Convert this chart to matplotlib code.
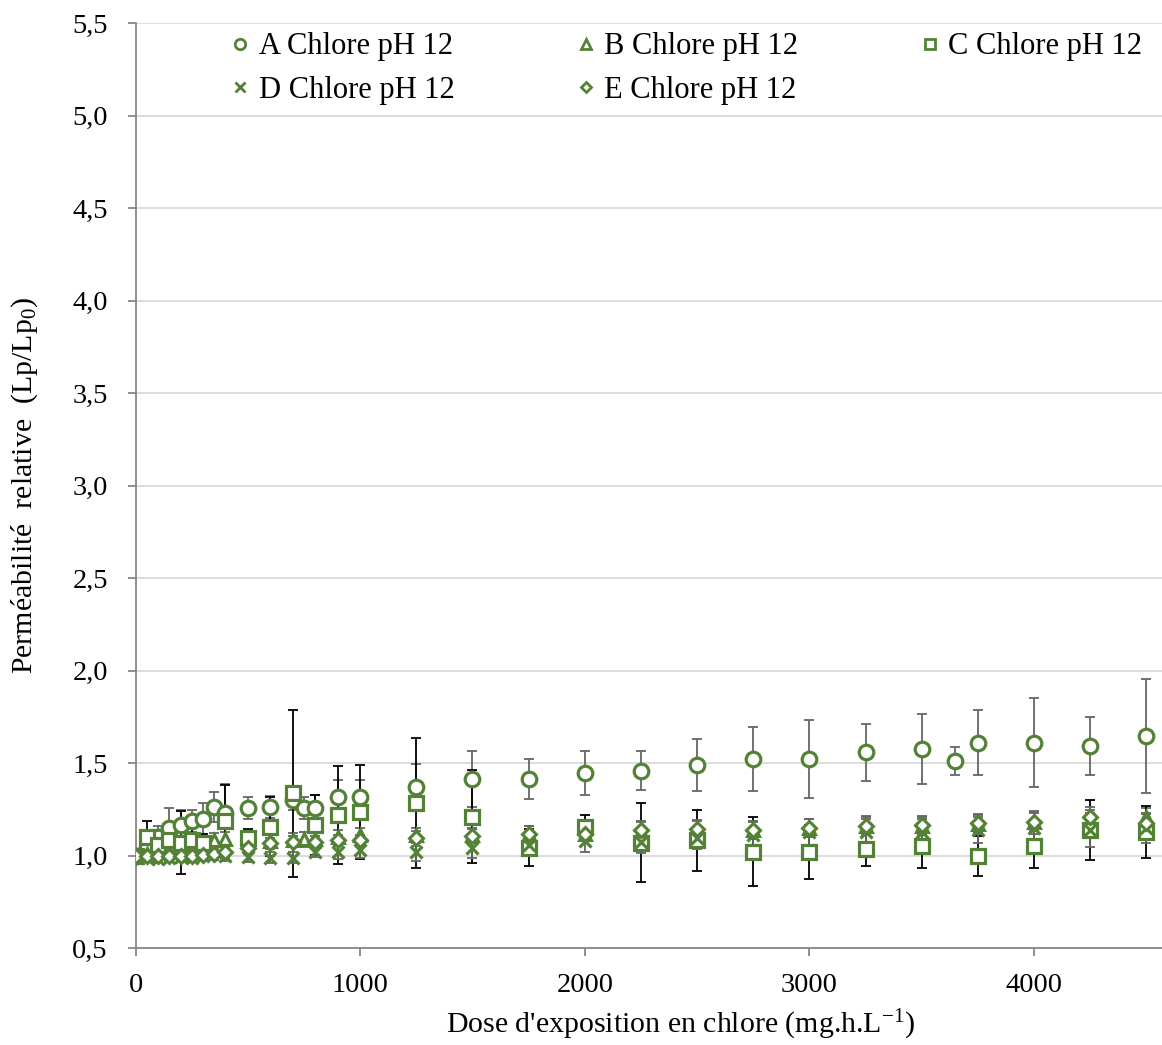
import matplotlib
matplotlib.use('Agg')
import matplotlib.pyplot as plt
from matplotlib.lines import Line2D
from matplotlib.ticker import FuncFormatter, MultipleLocator

plt.rcParams['font.family'] = ['Liberation Serif', 'DejaVu Serif']
plt.rcParams['mathtext.fontset'] = 'custom'
plt.rcParams['mathtext.rm'] = 'Liberation Serif'
plt.rcParams['mathtext.it'] = 'Liberation Serif:italic'

# doses (mg.h/L)
dose_a = [0, 50, 100, 150, 200, 250, 300, 350, 400, 500, 600, 700, 750, 800, 900, 1000,
          1250, 1500, 1750, 2000, 2250, 2500, 2750, 3000, 3250, 3500, 3650, 3750, 4000, 4250, 4500]
lp_a = [1.0, 1.04, 1.10, 1.15, 1.165, 1.19, 1.197, 1.265, 1.23, 1.257, 1.262, 1.30, 1.257, 1.257, 1.32, 1.32,
        1.373, 1.415, 1.415, 1.446, 1.46, 1.49, 1.523, 1.523, 1.559, 1.577, 1.512, 1.611, 1.611, 1.594, 1.648]
err_a = [0.0, 0.05, 0.06, 0.11, 0.08, 0.06, 0.09, 0.08, 0.16, 0.06, 0.06, 0.05, 0.06, 0.07, 0.09, 0.09,
         0.125, 0.15, 0.11, 0.12, 0.105, 0.14, 0.175, 0.21, 0.155, 0.19, 0.075, 0.175, 0.24, 0.157, 0.31]

dose_b = [0, 50, 100, 150, 200, 250, 300, 350, 400, 500, 600, 700, 750, 800, 900, 1000,
          1250, 1500, 1750, 2000, 2250, 2500, 2750, 3000, 3250, 3500, 3750, 4000, 4250, 4500]
lp_b = [1.0, 1.01, 1.02, 1.02, 1.03, 1.04, 1.05, 1.085, 1.09, 1.09, 1.08, 1.085, 1.09, 1.09, 1.10, 1.11,
        1.11, 1.11, 1.12, 1.12, 1.13, 1.14, 1.14, 1.15, 1.16, 1.16, 1.17, 1.18, 1.19, 1.21]
err_b = [0.0, 0.02, 0.02, 0.03, 0.03, 0.03, 0.03, 0.04, 0.04, 0.04, 0.04, 0.04, 0.04, 0.04, 0.04, 0.04,
         0.04, 0.04, 0.04, 0.04, 0.05, 0.05, 0.05, 0.05, 0.05, 0.05, 0.05, 0.06, 0.06, 0.05]

dose_c = [0, 50, 100, 150, 200, 250, 300, 400, 500, 600, 700, 800, 900, 1000,
          1250, 1500, 1750, 2000, 2250, 2500, 2750, 3000, 3250, 3500, 3750, 4000, 4250, 4500]
lp_c = [1.0, 1.10, 1.06, 1.085, 1.07, 1.085, 1.068, 1.19, 1.095, 1.157, 1.338, 1.167, 1.22, 1.238,
        1.284, 1.211, 1.044, 1.157, 1.07, 1.085, 1.022, 1.019, 1.035, 1.053, 0.999, 1.053, 1.14, 1.13]
err_c = [0.0, 0.09, 0.06, 0.08, 0.17, 0.07, 0.05, 0.195, 0.05, 0.16, 0.45, 0.16, 0.265, 0.255,
         0.35, 0.25, 0.10, 0.065, 0.214, 0.165, 0.187, 0.145, 0.09, 0.117, 0.108, 0.117, 0.16, 0.14]

dose_d = [0, 50, 100, 150, 200, 250, 300, 400, 500, 600, 700, 800, 900, 1000,
          1250, 1500, 1750, 2000, 2250, 2500, 2750, 3000, 3250, 3500, 3750, 4000, 4250, 4500]
lp_d = [1.0, 0.99, 0.985, 0.99, 0.995, 0.99, 1.0, 1.0, 0.995, 0.99, 0.99, 1.022, 1.022, 1.03,
        1.022, 1.04, 1.058, 1.08, 1.076, 1.095, 1.11, 1.13, 1.13, 1.13, 1.14, 1.149, 1.14, 1.149]
err_d = [0.0, 0.02, 0.02, 0.02, 0.02, 0.02, 0.02, 0.03, 0.03, 0.03, 0.03, 0.03, 0.04, 0.04,
         0.05, 0.05, 0.06, 0.06, 0.06, 0.06, 0.07, 0.07, 0.07, 0.07, 0.07, 0.08, 0.09, 0.08]

dose_e = [0, 50, 100, 150, 200, 250, 300, 350, 400, 500, 600, 700, 800, 900, 1000,
          1250, 1500, 1750, 2000, 2250, 2500, 2750, 3000, 3250, 3500, 3750, 4000, 4250, 4500]
lp_e = [1.0, 1.0, 1.0, 1.0, 1.0, 1.0, 1.005, 1.01, 1.02, 1.04, 1.068, 1.076, 1.076, 1.085, 1.085,
        1.095, 1.107, 1.12, 1.12, 1.14, 1.143, 1.14, 1.149, 1.163, 1.165, 1.176, 1.184, 1.211, 1.176]
err_e = [0.0, 0.02, 0.02, 0.02, 0.02, 0.02, 0.02, 0.03, 0.03, 0.03, 0.03, 0.03, 0.03, 0.03, 0.03,
         0.04, 0.04, 0.04, 0.04, 0.05, 0.05, 0.05, 0.05, 0.05, 0.05, 0.05, 0.05, 0.05, 0.05]

labels = ['A Chlore pH 12', 'B Chlore pH 12', 'C Chlore pH 12', 'D Chlore pH 12', 'E Chlore pH 12']
y_ticks = [0.5, 1.0, 1.5, 2.0, 2.5, 3.0, 3.5, 4.0, 4.5, 5.0, 5.5]

green = '#538135'
grey_err = '#666666'

fig = plt.figure(figsize=(11.62, 10.45), dpi=100)
ax = fig.add_axes([0.1167, 0.0925, 0.8833, 0.8855])

series = [
    (dose_a, lp_a, err_a, 'o', 10.5, 2.3, grey_err),
    (dose_b, lp_b, err_b, '^', 9, 2.2, grey_err),
    (dose_c, lp_c, err_c, 's', 10.5, 2.3, 'black'),
    (dose_d, lp_d, err_d, 'x', 8.5, 2.3, grey_err),
    (dose_e, lp_e, err_e, 'D', 7, 2.2, grey_err),
]
legend_ms = [7.5, 7.5, 7.5, 6.5, 5.5]
handles = []
for i, (xd, yd, ed, mk, ms, mew, ec) in enumerate(series):
    ax.errorbar(xd, yd, yerr=ed, fmt='none', ecolor=ec, elinewidth=1.3,
                capsize=3.5, capthick=1.3, zorder=2 + i * 0.01)
    ax.plot(xd, yd, linestyle='none', marker=mk, ms=ms, mew=mew, mec=green,
            mfc='white', zorder=3 + i * 0.01)
    handles.append(Line2D([], [], linestyle='none', marker=mk, ms=legend_ms[i],
                          mew=2.0, mec=green, mfc='white'))

ax.set_xlim(0, 4570)
ax.set_ylim(0.5, 5.5)
ax.set_yticks(y_ticks)
ax.yaxis.set_major_formatter(FuncFormatter(lambda v, p: ('%.1f' % v).replace('.', ',')))
ax.xaxis.set_major_locator(MultipleLocator(1000))
ax.grid(axis='y', color='#d9d9d9', linewidth=1.3, zorder=0)
ax.set_axisbelow(True)
for s in ['top', 'right']:
    ax.spines[s].set_visible(False)
for s in ['left', 'bottom']:
    ax.spines[s].set_color('#868686')
    ax.spines[s].set_linewidth(1.3)
ax.tick_params(axis='both', colors='#868686', labelcolor='black', labelsize=20.5,
               length=6, width=1.3, direction='out')
ax.tick_params(axis='x', pad=12)
ax.tick_params(axis='y', pad=14)

ax.set_xlabel(r"Dose d'exposition en chlore (mg.h.L$^{\mathrm{-1}}$)", fontsize=21.5)
ax.set_ylabel(r'Perméabilité  relative  (Lp/Lp$_{\mathrm{0}}$)', fontsize=21.5)
ax.xaxis.set_label_coords(0.531, -0.064)
ax.yaxis.set_label_coords(-0.093, 0.5)

order = [0, 3, 1, 4, 2]
fig.legend([handles[k] for k in order], [labels[k] for k in order], ncol=3,
           loc='upper left', bbox_to_anchor=(0.199, 0.969), frameon=False,
           fontsize=22, handlelength=0.6, handletextpad=0.3, columnspacing=4.0,
           labelspacing=0.48, borderpad=0, borderaxespad=0)

fig.savefig('out.png', dpi=100)
